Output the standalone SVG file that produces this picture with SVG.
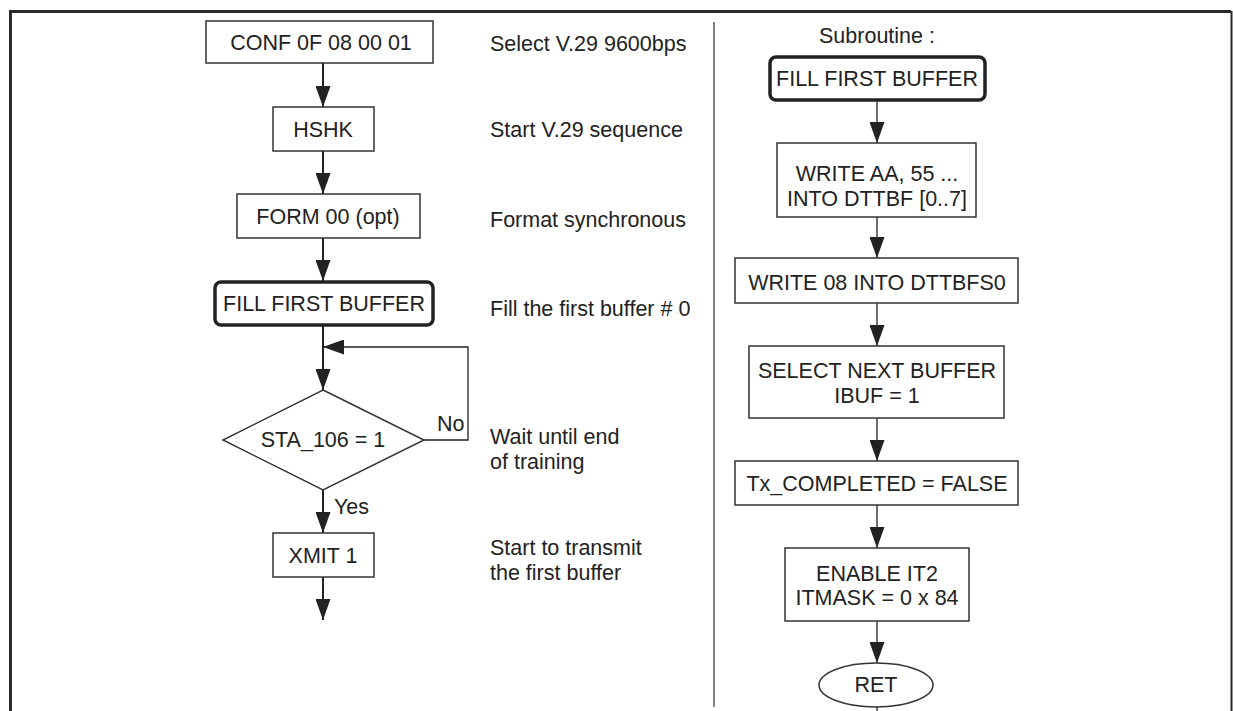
<svg xmlns="http://www.w3.org/2000/svg" width="1233" height="711" viewBox="0 0 1233 711">
<style>
text{font-family:"Liberation Sans",Arial,sans-serif;font-size:21.5px;fill:#222;}
.c{text-anchor:middle;}
.box{fill:#fff;stroke:#333;stroke-width:1.5;}
.sub{fill:#fff;stroke:#222;stroke-width:3.5;}
.ln{stroke:#222;stroke-width:2;fill:none;}
.lr{stroke:#222;stroke-width:1.3;fill:none;}
.frame{stroke:#2a2a2a;fill:none;}
</style>
<defs>
<marker id="ah" viewBox="0 0 21 15" refX="21" refY="7.5" markerWidth="21" markerHeight="15" markerUnits="userSpaceOnUse" orient="auto">
<path d="M0,0 L21,7.5 L0,15 Z" fill="#222"/>
</marker>
</defs>
<rect width="1233" height="711" fill="#fff"/>
<g id="frame">
<path class="frame" d="M10.5,711 V11.5 H1231" stroke-width="3"/>
<path class="frame" d="M1231.5,11 V711" stroke-width="2"/>
<line class="frame" x1="714" y1="22" x2="714" y2="707" stroke-width="1.2"/>
</g>
<g id="connectors">
<line class="ln" x1="323" y1="63" x2="323" y2="107" marker-end="url(#ah)"/>
<line class="ln" x1="323" y1="151" x2="323" y2="194" marker-end="url(#ah)"/>
<line class="ln" x1="323" y1="238" x2="323" y2="281" marker-end="url(#ah)"/>
<line class="ln" x1="323" y1="325" x2="323" y2="390" marker-end="url(#ah)"/>
<polyline class="lr" points="424,440 468,440 468,347 323,347" marker-end="url(#ah)"/>
<line class="ln" x1="323" y1="490" x2="323" y2="533" marker-end="url(#ah)"/>
<line class="ln" x1="323" y1="577" x2="323" y2="620" marker-end="url(#ah)"/>
<line class="lr" x1="877" y1="100" x2="877" y2="143" marker-end="url(#ah)"/>
<line class="lr" x1="877" y1="217" x2="877" y2="258" marker-end="url(#ah)"/>
<line class="lr" x1="877" y1="303" x2="877" y2="346" marker-end="url(#ah)"/>
<line class="lr" x1="877" y1="418" x2="877" y2="461" marker-end="url(#ah)"/>
<line class="lr" x1="877" y1="505" x2="877" y2="548" marker-end="url(#ah)"/>
<line class="lr" x1="877" y1="621" x2="877" y2="663" marker-end="url(#ah)"/>
<line class="lr" x1="877" y1="707" x2="877" y2="711"/>
<text x="437" y="431">No</text>
<text x="334" y="514">Yes</text>
</g>
<g id="conf"><rect class="box" x="206" y="21" width="227" height="42"/><text class="c" x="321" y="50">CONF 0F 08 00 01</text></g>
<g id="hshk"><rect class="box" x="273" y="107" width="101" height="44"/><text class="c" x="323" y="137">HSHK</text></g>
<g id="form"><rect class="box" x="237" y="194" width="183" height="44"/><text class="c" x="328" y="224">FORM 00 (opt)</text></g>
<g id="fill1"><rect class="sub" x="215" y="282" width="218" height="43" rx="6"/><text class="c" x="324" y="311">FILL FIRST BUFFER</text></g>
<g id="sta"><polygon class="box" points="323,390 424,440 323,490 223,440"/><text class="c" x="323" y="447">STA_106 = 1</text></g>
<g id="xmit"><rect class="box" x="273" y="533" width="101" height="44"/><text class="c" x="323" y="563">XMIT 1</text></g>
<g id="notes">
<text x="490" y="51">Select V.29 9600bps</text>
<text x="490" y="137">Start V.29 sequence</text>
<text x="490" y="227">Format synchronous</text>
<text x="490" y="316">Fill the first buffer # 0</text>
<text x="490" y="444">Wait until end</text>
<text x="490" y="469">of training</text>
<text x="490" y="555">Start to transmit</text>
<text x="490" y="580">the first buffer</text>
</g>
<g id="subtitle"><text class="c" x="877" y="43">Subroutine :</text></g>
<g id="fill2"><rect class="sub" x="770" y="57" width="215" height="43" rx="6"/><text class="c" x="877" y="86">FILL FIRST BUFFER</text></g>
<g id="write1"><rect class="box" x="777" y="143" width="199" height="74"/><text class="c" x="877" y="181">WRITE AA, 55 ...</text><text class="c" x="877" y="206">INTO DTTBF [0..7]</text></g>
<g id="write2"><rect class="box" x="735" y="258" width="283" height="45"/><text class="c" x="877" y="290">WRITE 08  INTO DTTBFS0</text></g>
<g id="select"><rect class="box" x="749" y="346" width="255" height="72"/><text class="c" x="877" y="378">SELECT NEXT BUFFER</text><text class="c" x="877" y="403">IBUF = 1</text></g>
<g id="txc"><rect class="box" x="735" y="461" width="283" height="44"/><text class="c" x="877" y="491">Tx_COMPLETED = FALSE</text></g>
<g id="enable"><rect class="box" x="785" y="548" width="184" height="73"/><text class="c" x="877" y="581">ENABLE IT2</text><text class="c" x="877" y="605">ITMASK = 0 x 84</text></g>
<g id="ret"><ellipse class="box" cx="876" cy="685" rx="57" ry="22" stroke-width="1.2"/><text class="c" x="876" y="692">RET</text></g>
</svg>
